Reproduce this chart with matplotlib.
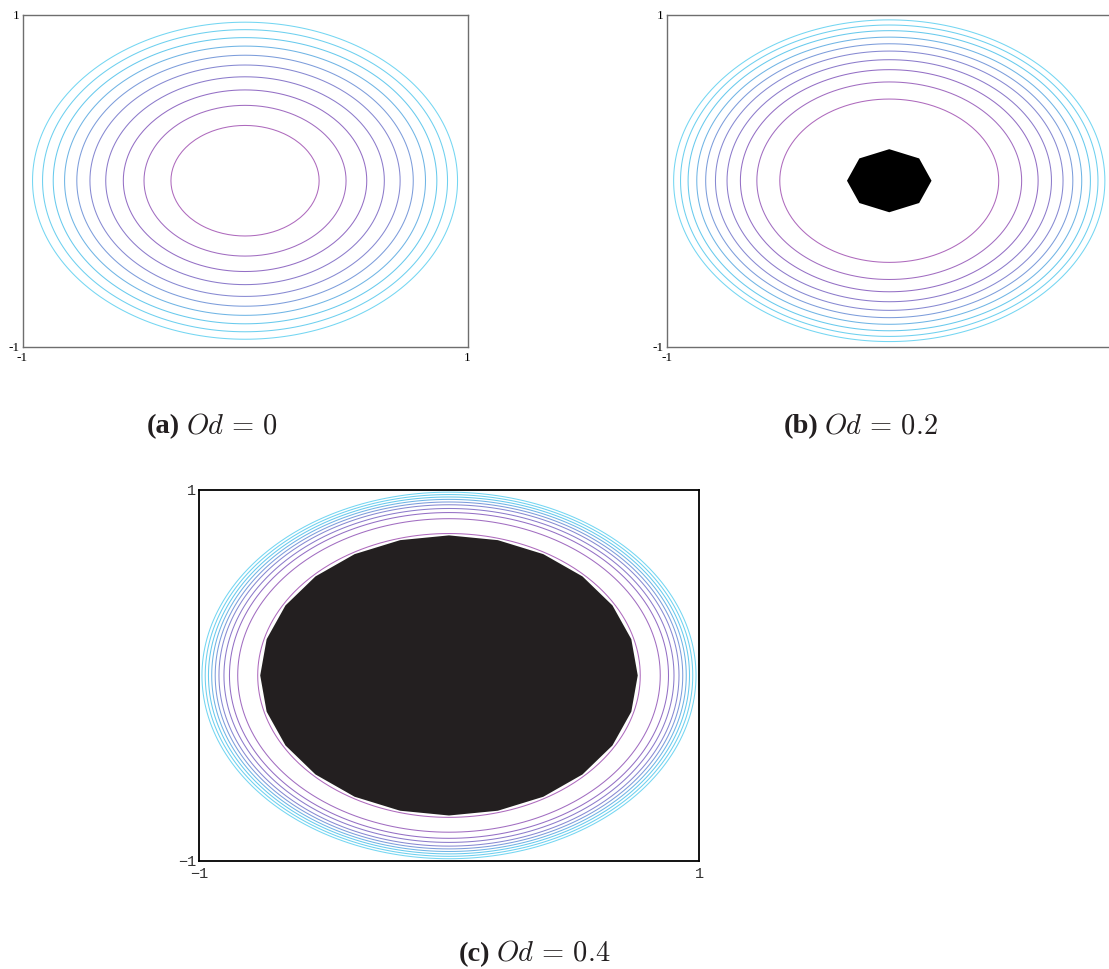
import matplotlib.pyplot as plt
import numpy as np
from matplotlib.colors import LinearSegmentedColormap
from matplotlib.patches import RegularPolygon

plt.rcParams['mathtext.fontset'] = 'cm'

# contour radii, outer -> inner (domain [-1, 1])
radii_a = [0.955, 0.910, 0.862, 0.811, 0.756, 0.697, 0.626, 0.547, 0.454, 0.333]
radii_b = [0.969, 0.938, 0.904, 0.865, 0.825, 0.781, 0.729, 0.669, 0.595, 0.492]
radii_c = [0.988, 0.975, 0.962, 0.949, 0.935, 0.920, 0.900, 0.878, 0.845, 0.765]

# unyielded (plug) region: radius and number of polygon sides
plug_radius = [0.0, 0.19, 0.755]
plug_sides = [0, 8, 24]
plug_color = ['k', '#000000', '#231f20']

od_values = ['0', '0.2', '0.4']
panel_tags = ['(a)', '(b)', '(c)']

# inner (purple) -> outer (cyan)
line_cmap = LinearSegmentedColormap.from_list(
    'cp', ['#ae6abd', '#9070c6', '#8490d6', '#66c8ec', '#74d6f2'])

fig = plt.figure(figsize=(11.09, 9.69), dpi=100)

# step1 axes frames (figure fractions)
ax_a = fig.add_axes([0.0203, 0.6422, 0.4013, 0.3426])
ax_b = fig.add_axes([0.6012, 0.6422, 0.4013, 0.3426])
ax_c = fig.add_axes([0.1794, 0.1115, 0.4509, 0.3829])


def draw_panel(ax, radii, r_plug, n_sides, pcolor, mono=False, right_label=True):
    x = np.linspace(-1, 1, 81)
    X, Y = np.meshgrid(x, x)
    R = np.hypot(X, Y)
    levels = sorted(radii)
    colors = line_cmap(np.linspace(0, 1, len(levels)))
    ax.contour(X, Y, R, levels=levels, colors=colors, linewidths=0.75)
    if n_sides:
        ax.add_patch(RegularPolygon((0, 0), n_sides, radius=r_plug,
                                    orientation=0, facecolor=pcolor,
                                    edgecolor='none', zorder=3))
    ax.set_xlim(-1, 1)
    ax.set_ylim(-1, 1)
    ax.set_xticks([-1, 1])
    ax.set_yticks([-1, 1])
    if mono:
        labs = ['\u22121', '1']
        font = dict(family='Liberation Mono', size=11, color='#333333')
        spc, lw = 'black', 1.3
    else:
        labs = ['-1', '1']
        font = dict(family='Liberation Serif', size=9.5, color='black')
        spc, lw = '#6e6e6e', 1.0
    xlabs = labs if right_label else [labs[0], '']
    ax.set_xticklabels(xlabs, **font)
    ax.set_yticklabels(labs, **font)
    ax.tick_params(axis='x', length=0, pad=4)
    ax.tick_params(axis='y', length=0, pad=2)
    for s in ax.spines.values():
        s.set_color(spc)
        s.set_linewidth(lw)


draw_panel(ax_a, radii_a, plug_radius[0], plug_sides[0], plug_color[0])
draw_panel(ax_b, radii_b, plug_radius[1], plug_sides[1], plug_color[1],
           right_label=False)
draw_panel(ax_c, radii_c, plug_radius[2], plug_sides[2], plug_color[2], mono=True)

# captions: tag right edge x, baseline y
cap_pos = [(0.1623, 0.5528), (0.7377, 0.5528), (0.4418, 0.0086)]
for tag, od, (cx, cy) in zip(panel_tags, od_values, cap_pos):
    fig.text(cx, cy, tag, family='Liberation Serif', weight='bold',
             size=20.5, ha='right', va='baseline', color='#231f20')
    fig.text(cx + 0.005, cy, r'$Od\,=\,%s$' % od, size=20.5,
             ha='left', va='baseline', color='#231f20')

fig.savefig('out.png', dpi=100)
